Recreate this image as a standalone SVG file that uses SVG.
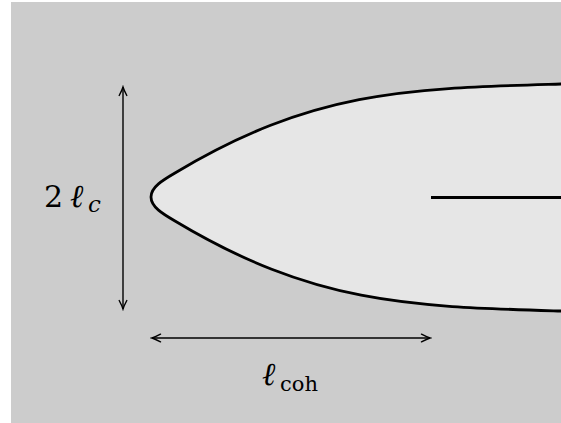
<svg xmlns="http://www.w3.org/2000/svg" width="561" height="423" viewBox="0 0 561 423">
  <style>
    .bg { fill: #cccccc; }
    .body { fill: #e6e6e6; stroke: #000; stroke-width: 2.8; stroke-linejoin: round; }
    .crack { stroke: #000; stroke-width: 2.8; fill: none; }
    .dim { stroke: #000; stroke-width: 1.4; fill: none; }
    .lbl { font-family: "DejaVu Serif", serif; fill: #000; }
  </style>
  <defs>
    <marker id="tip" viewBox="-10 -5 12 10" refX="0" refY="0" markerWidth="12" markerHeight="10" markerUnits="userSpaceOnUse" orient="auto-start-reverse">
      <path d="M -8.5,-3.8 Q -3,-0.9 0,0 Q -3,0.9 -8.5,3.8" fill="none" stroke="#000" stroke-width="1.4" stroke-linecap="round"/>
    </marker>
  </defs>
  <rect class="bg" x="11" y="2" width="550" height="421"/>

  <g id="body">
    <path class="body" d="M 564,84 L 561,84 C 411,88.5 315,89 175,173 C 163,180 151,187 151,197 C 151,207 163,214 175,221 C 315,305 411,306.5 561,311 L 564,311 Z"/>
  </g>
  <g id="crack">
    <line class="crack" x1="431" y1="197.5" x2="562" y2="197.5"/>
  </g>

  <g id="connectors">
    <line class="dim" x1="123" y1="87" x2="123" y2="309" marker-start="url(#tip)" marker-end="url(#tip)"/>
    <line class="dim" x1="152" y1="338" x2="430" y2="338" marker-start="url(#tip)" marker-end="url(#tip)"/>
  </g>

  <g id="label-width">
    <text class="lbl" x="44" y="207" font-size="30">2<tspan x="70" font-style="italic" font-size="32">ℓ</tspan><tspan x="88" y="212" font-size="23" font-style="italic">c</tspan></text>
  </g>
  <g id="label-length">
    <text class="lbl" x="262" y="385" font-size="32" font-style="italic">ℓ<tspan x="280" y="391" font-size="21" font-style="normal">coh</tspan></text>
  </g>
</svg>
